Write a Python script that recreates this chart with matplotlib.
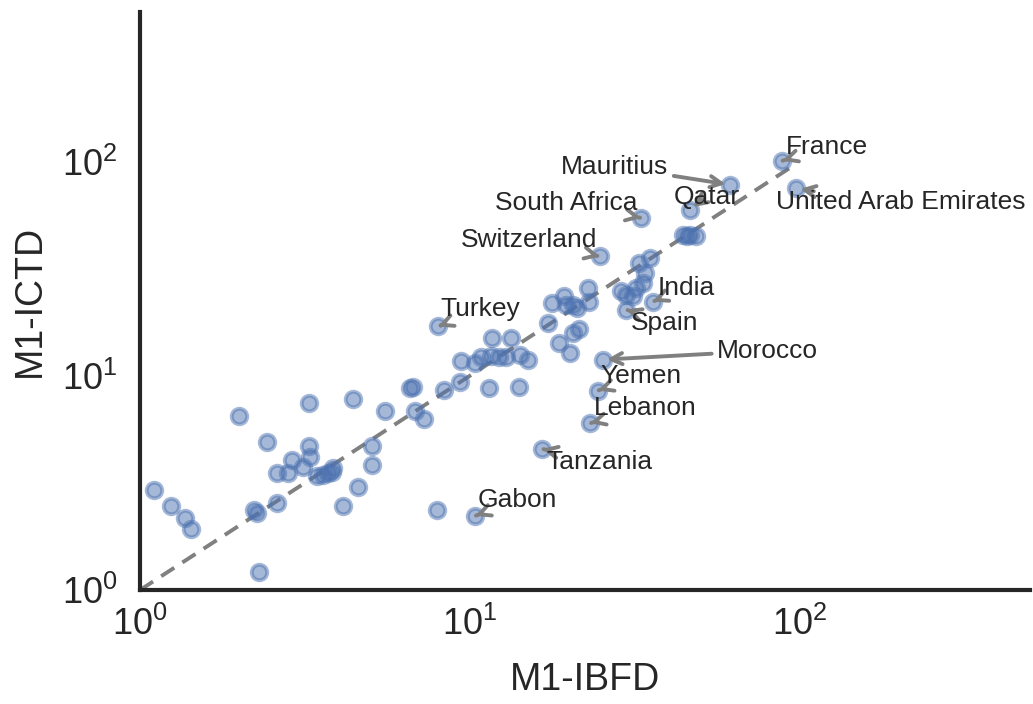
import matplotlib
matplotlib.use("Agg")
import matplotlib.pyplot as plt
import numpy as np

# Unlabelled countries (M1-IBFD, M1-ICTD)
x_other = [1.10, 1.24, 1.37, 1.43, 2.00, 2.43, 3.25, 2.61, 2.81, 2.90, 3.13, 3.25, 3.27,
           2.21, 2.26, 2.61, 2.30,
           4.43, 5.53, 6.58, 6.73, 6.81, 7.27, 8.34, 9.33, 9.39,
           5.07, 5.07, 4.57, 4.13, 7.96,
           3.43, 3.59, 3.72, 3.81, 3.85,
           10.8, 11.6, 11.7, 13.3, 12.9, 12.3, 14.2, 15.0, 10.4, 11.4, 14.1,
           17.3, 17.8, 19.3, 19.6, 20.6, 21.1, 22.8, 23.0, 18.7, 20.1, 20.6, 21.5,
           32.7, 35.1, 33.9, 33.5, 28.8, 29.8, 31.3, 32.0,
           44.2, 46.4, 48.7, 45.5]
y_other = [2.93, 2.47, 2.17, 1.93, 6.5, 4.9, 7.5, 3.53, 3.53, 4.05, 3.77, 4.72, 4.2,
           2.37, 2.28, 2.56, 1.22,
           7.83, 6.86, 8.75, 8.91, 6.86, 6.30, 8.6, 9.34, 11.7,
           4.71, 3.84, 3.04, 2.47, 2.37,
           3.39, 3.45, 3.51, 3.57, 3.70,
           12.2, 12.4, 15.0, 15.0, 12.2, 12.3, 12.5, 11.9, 11.5, 8.75, 8.86,
           17.7, 21.9, 23.6, 21.5, 21.5, 20.7, 25.7, 22.2, 14.2, 12.8, 15.8, 16.5,
           33.6, 35.5, 30.2, 27.1, 24.8, 23.9, 23.5, 25.7,
           45.6, 45.6, 44.9, 45.0]

# Labelled countries
lab_names = ["France", "Mauritius", "Qatar", "United Arab Emirates", "South Africa",
             "Switzerland", "India", "Spain", "Turkey", "Morocco", "Yemen",
             "Lebanon", "Tanzania", "Gabon"]
lab_x = [88.8, 61.4, 46.4, 97.7, 33.1, 24.8, 35.9, 29.8, 8.02, 25.3, 24.5, 23.2, 16.6, 10.4]
lab_y = [101.0, 78.1, 59.7, 75.3, 54.6, 36.1, 22.2, 20.4, 17.0, 11.9, 8.54, 6.01, 4.56, 2.22]

# label offsets (pixels) – layout only
lab_off = [(44, 14), (-115, 18), (17, 13), (105, -14), (-75, 15), (-71, 16), (33, 14),
           (38, -13), (42, 17), (165, 9), (43, 15), (55, 15), (57, -13), (42, 16)]

plt.rcParams['font.family'] = ['Liberation Sans', 'DejaVu Sans']
plt.rcParams['mathtext.fontset'] = 'custom'
plt.rcParams['mathtext.rm'] = 'Liberation Sans'
plt.rcParams['mathtext.it'] = 'Liberation Sans'
plt.rcParams['mathtext.bf'] = 'Liberation Sans'

fig = plt.figure(figsize=(10.33, 7.04), dpi=100)
ax = fig.add_axes([140/1033, 1-590/704, 890/1033, 578/704])

all_x = np.array(x_other + lab_x)
all_y = np.array(y_other + lab_y)

ax.scatter(all_x, all_y, s=125, color='#4C72B0', alpha=0.5, linewidths=2.8,
           edgecolors='#4C72B0', zorder=3)
mx = all_x.max()
ax.plot([1, mx], [1, mx], ls='--', color='gray', lw=2.8, dashes=(4, 2.5), zorder=2)

for name, xv, yv, off in zip(lab_names, lab_x, lab_y, lab_off):
    ap = dict(arrowstyle='->', color='gray', lw=2.8,
              shrinkA=2, shrinkB=3, mutation_scale=20)
    if name == "United Arab Emirates":
        ap['relpos'] = (0.15, 0.95)
        ap['patchA'] = None
        ap['shrinkA'] = 0
    ax.annotate(name, xy=(xv, yv), xytext=off, textcoords='offset pixels',
                ha='center', va='center', fontsize=19, color='#262626',
                arrowprops=ap, zorder=4)

ax.set_xscale('log')
ax.set_yscale('log')
ax.set_xlim(1, 500)
ax.set_ylim(1, 500)
ax.set_xticks([1, 10, 100])
ax.set_yticks([1, 10, 100])
ax.xaxis.set_minor_locator(matplotlib.ticker.NullLocator())
ax.yaxis.set_minor_locator(matplotlib.ticker.NullLocator())
ax.tick_params(axis='both', which='both', length=0, labelsize=26, colors='#262626')
ax.tick_params(axis='x', pad=12)
ax.tick_params(axis='y', pad=16)
ax.set_xlabel('M1-IBFD', fontsize=27, color='#262626', labelpad=14)
ax.set_ylabel('M1-ICTD', fontsize=27, color='#262626', labelpad=10)

for s in ['top', 'right']:
    ax.spines[s].set_visible(False)
for s in ['left', 'bottom']:
    ax.spines[s].set_linewidth(3)
    ax.spines[s].set_color('#262626')

fig.savefig('out.png', dpi=100)
